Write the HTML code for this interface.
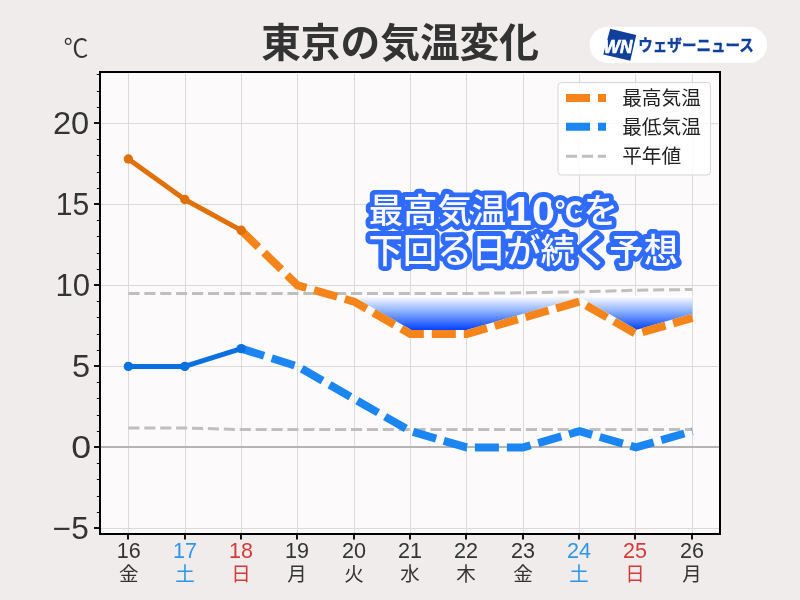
<!DOCTYPE html>
<html lang="ja">
<head>
<meta charset="utf-8">
<title>東京の気温変化</title>
<style>
html,body{margin:0;padding:0;}
body{width:800px;height:600px;overflow:hidden;background:#efeceb;font-family:"Liberation Sans", "Noto Sans CJK JP", sans-serif;}
svg{display:block;position:absolute;left:0;top:0;will-change:transform;}
text{font-family:"Liberation Sans", "Noto Sans CJK JP", sans-serif;}
.ja{font-family:"Liberation Sans","Noto Sans CJK JP",sans-serif;}
</style>
</head>
<body>
<svg width="800" height="600" viewBox="0 0 800 600">
<defs>
<linearGradient id="cold" gradientUnits="userSpaceOnUse" x1="0" y1="296" x2="0" y2="330.5">
<stop offset="0" stop-color="#ffffff"/>
<stop offset="0.5" stop-color="#7ca6ff"/>
<stop offset="1" stop-color="#003cff"/>
</linearGradient>
<mask id="cut" maskUnits="userSpaceOnUse" x="340" y="280" width="370" height="70">
<rect x="340" y="280" width="370" height="70" fill="#ffffff"/>
<polyline points="297.60,285.40 354.00,301.60 410.40,334.00 466.80,334.00 523.20,317.80 579.60,301.60 636.00,334.00 692.40,317.80" fill="none" stroke="#000000" stroke-width="8" stroke-linejoin="miter"/>
</mask>
</defs>
<rect x="0" y="0" width="800" height="600" fill="#efeceb"/>

<rect x="100.0" y="72.0" width="620.0" height="462.0" fill="#fcfafa"/>
<g stroke="#dbdada" stroke-width="1" fill="none"><line x1="128.5" y1="72.0" x2="128.5" y2="534.0"/><line x1="185.5" y1="72.0" x2="185.5" y2="534.0"/><line x1="241.5" y1="72.0" x2="241.5" y2="534.0"/><line x1="297.5" y1="72.0" x2="297.5" y2="534.0"/><line x1="354.5" y1="72.0" x2="354.5" y2="534.0"/><line x1="410.5" y1="72.0" x2="410.5" y2="534.0"/><line x1="466.5" y1="72.0" x2="466.5" y2="534.0"/><line x1="523.5" y1="72.0" x2="523.5" y2="534.0"/><line x1="579.5" y1="72.0" x2="579.5" y2="534.0"/><line x1="635.5" y1="72.0" x2="635.5" y2="534.0"/><line x1="692.5" y1="72.0" x2="692.5" y2="534.0"/><line x1="100.0" y1="528.5" x2="720.0" y2="528.5"/><line x1="100.0" y1="366.5" x2="720.0" y2="366.5"/><line x1="100.0" y1="285.5" x2="720.0" y2="285.5"/><line x1="100.0" y1="204.5" x2="720.0" y2="204.5"/><line x1="100.0" y1="123.5" x2="720.0" y2="123.5"/></g>
<line x1="100.0" y1="447.00" x2="720.0" y2="447.00" stroke="#b4b4b4" stroke-width="2"/>
<polyline points="128.40,293.50 184.80,293.50 241.20,293.50 297.60,293.50 354.00,293.50 410.40,293.50 466.80,293.50 523.20,292.69 579.60,291.88 636.00,290.26 692.40,289.45" fill="none" stroke="#c0bfbf" stroke-width="3" stroke-dasharray="11.1 4.8"/>
<polyline points="128.40,427.96 184.80,427.96 241.20,429.58 297.60,429.58 354.00,429.58 410.40,429.58 466.80,429.58 523.20,429.58 579.60,429.58 636.00,429.58 692.40,429.58" fill="none" stroke="#c0bfbf" stroke-width="3" stroke-dasharray="11.1 4.8"/>
<polygon points="354.00,295.60 354.00,301.60 410.40,334.00 466.80,334.00 523.20,317.80 579.60,301.60 636.00,334.00 692.40,317.80 692.40,295.60" fill="url(#cold)" mask="url(#cut)"/>
<polyline points="241.20,230.32 297.60,285.40 354.00,301.60 410.40,334.00 466.80,334.00 523.20,317.80 579.60,301.60 636.00,334.00 692.40,317.80" fill="none" stroke="#f5841a" stroke-width="8" stroke-dasharray="24 8" stroke-linejoin="miter"/>
<polyline points="241.20,348.58 297.60,366.40 354.00,398.80 410.40,431.20 466.80,447.40 523.20,447.40 579.60,431.20 636.00,447.40 692.40,431.20" fill="none" stroke="#1b85f2" stroke-width="8" stroke-dasharray="24 8" stroke-linejoin="miter"/>
<polyline points="128.40,159.04 184.80,199.54 241.20,230.32" fill="none" stroke="#e0700a" stroke-width="5" stroke-linejoin="round" stroke-linecap="round"/>
<circle cx="128.40" cy="159.04" r="4.7" fill="#e0700a"/>
<circle cx="184.80" cy="199.54" r="4.7" fill="#e0700a"/>
<circle cx="241.20" cy="230.32" r="4.7" fill="#e0700a"/>
<polyline points="128.40,366.40 184.80,366.40 241.20,348.58" fill="none" stroke="#0a6fe0" stroke-width="5" stroke-linejoin="round" stroke-linecap="round"/>
<circle cx="128.40" cy="366.40" r="4.7" fill="#0a6fe0"/>
<circle cx="184.80" cy="366.40" r="4.7" fill="#0a6fe0"/>
<circle cx="241.20" cy="348.58" r="4.7" fill="#0a6fe0"/>
<rect x="100.0" y="72.0" width="620.0" height="462.0" fill="none" stroke="#000" stroke-width="2"/>
<g stroke="#111" fill="none"><line x1="94.0" y1="528.0" x2="99.0" y2="528.0" stroke-width="2"/><line x1="96.8" y1="512.5" x2="99.0" y2="512.5" stroke-width="1"/><line x1="96.8" y1="496.5" x2="99.0" y2="496.5" stroke-width="1"/><line x1="96.8" y1="479.5" x2="99.0" y2="479.5" stroke-width="1"/><line x1="96.8" y1="463.5" x2="99.0" y2="463.5" stroke-width="1"/><line x1="94.0" y1="447.0" x2="99.0" y2="447.0" stroke-width="2"/><line x1="96.8" y1="431.5" x2="99.0" y2="431.5" stroke-width="1"/><line x1="96.8" y1="415.5" x2="99.0" y2="415.5" stroke-width="1"/><line x1="96.8" y1="398.5" x2="99.0" y2="398.5" stroke-width="1"/><line x1="96.8" y1="382.5" x2="99.0" y2="382.5" stroke-width="1"/><line x1="94.0" y1="366.0" x2="99.0" y2="366.0" stroke-width="2"/><line x1="96.8" y1="350.5" x2="99.0" y2="350.5" stroke-width="1"/><line x1="96.8" y1="334.5" x2="99.0" y2="334.5" stroke-width="1"/><line x1="96.8" y1="317.5" x2="99.0" y2="317.5" stroke-width="1"/><line x1="96.8" y1="301.5" x2="99.0" y2="301.5" stroke-width="1"/><line x1="94.0" y1="285.0" x2="99.0" y2="285.0" stroke-width="2"/><line x1="96.8" y1="269.5" x2="99.0" y2="269.5" stroke-width="1"/><line x1="96.8" y1="253.5" x2="99.0" y2="253.5" stroke-width="1"/><line x1="96.8" y1="236.5" x2="99.0" y2="236.5" stroke-width="1"/><line x1="96.8" y1="220.5" x2="99.0" y2="220.5" stroke-width="1"/><line x1="94.0" y1="204.0" x2="99.0" y2="204.0" stroke-width="2"/><line x1="96.8" y1="188.5" x2="99.0" y2="188.5" stroke-width="1"/><line x1="96.8" y1="172.5" x2="99.0" y2="172.5" stroke-width="1"/><line x1="96.8" y1="155.5" x2="99.0" y2="155.5" stroke-width="1"/><line x1="96.8" y1="139.5" x2="99.0" y2="139.5" stroke-width="1"/><line x1="94.0" y1="123.0" x2="99.0" y2="123.0" stroke-width="2"/><line x1="96.8" y1="107.5" x2="99.0" y2="107.5" stroke-width="1"/><line x1="96.8" y1="91.5" x2="99.0" y2="91.5" stroke-width="1"/><line x1="96.8" y1="74.5" x2="99.0" y2="74.5" stroke-width="1"/><line x1="128.0" y1="535.0" x2="128.0" y2="539.6" stroke-width="2"/><line x1="185.0" y1="535.0" x2="185.0" y2="539.6" stroke-width="2"/><line x1="241.0" y1="535.0" x2="241.0" y2="539.6" stroke-width="2"/><line x1="297.0" y1="535.0" x2="297.0" y2="539.6" stroke-width="2"/><line x1="354.0" y1="535.0" x2="354.0" y2="539.6" stroke-width="2"/><line x1="410.0" y1="535.0" x2="410.0" y2="539.6" stroke-width="2"/><line x1="466.0" y1="535.0" x2="466.0" y2="539.6" stroke-width="2"/><line x1="523.0" y1="535.0" x2="523.0" y2="539.6" stroke-width="2"/><line x1="579.0" y1="535.0" x2="579.0" y2="539.6" stroke-width="2"/><line x1="635.0" y1="535.0" x2="635.0" y2="539.6" stroke-width="2"/><line x1="692.0" y1="535.0" x2="692.0" y2="539.6" stroke-width="2"/></g>
<text x="89.2" y="134.1" font-size="30.5" fill="#333333" text-anchor="end" textLength="36.3" lengthAdjust="spacingAndGlyphs">20</text>
<text x="89.2" y="215.1" font-size="30.5" fill="#333333" text-anchor="end" textLength="33.5" lengthAdjust="spacingAndGlyphs">15</text>
<text x="90.2" y="296.1" font-size="30.5" fill="#333333" text-anchor="end" textLength="34.7" lengthAdjust="spacingAndGlyphs">10</text>
<text x="90.2" y="377.1" font-size="30.5" fill="#333333" text-anchor="end" textLength="18.1" lengthAdjust="spacingAndGlyphs">5</text>
<text x="91.2" y="458.1" font-size="30.5" fill="#333333" text-anchor="end" textLength="19.9" lengthAdjust="spacingAndGlyphs">0</text>
<text x="88.8" y="539.1" font-size="30.5" fill="#333333" text-anchor="end" textLength="36.0" lengthAdjust="spacingAndGlyphs">−5</text>
<text x="128.8" y="558.2" font-size="22" fill="#333333" text-anchor="middle" textLength="24" lengthAdjust="spacingAndGlyphs">16</text>
<text class="ja" x="128.8" y="581" font-size="19.5" fill="#333333" text-anchor="middle">金</text>
<text x="185.1" y="558.2" font-size="22" fill="#2e96e6" text-anchor="middle" textLength="24" lengthAdjust="spacingAndGlyphs">17</text>
<text class="ja" x="185.1" y="581" font-size="19.5" fill="#2e96e6" text-anchor="middle">土</text>
<text x="241.1" y="558.2" font-size="22" fill="#d63a3a" text-anchor="middle" textLength="24" lengthAdjust="spacingAndGlyphs">18</text>
<text class="ja" x="241.1" y="581" font-size="19.5" fill="#d63a3a" text-anchor="middle">日</text>
<text x="297.1" y="558.2" font-size="22" fill="#333333" text-anchor="middle" textLength="24" lengthAdjust="spacingAndGlyphs">19</text>
<text class="ja" x="297.1" y="581" font-size="19.5" fill="#333333" text-anchor="middle">月</text>
<text x="354.1" y="558.2" font-size="22" fill="#333333" text-anchor="middle" textLength="24" lengthAdjust="spacingAndGlyphs">20</text>
<text class="ja" x="354.1" y="581" font-size="19.5" fill="#333333" text-anchor="middle">火</text>
<text x="410.1" y="558.2" font-size="22" fill="#333333" text-anchor="middle" textLength="24" lengthAdjust="spacingAndGlyphs">21</text>
<text class="ja" x="410.1" y="581" font-size="19.5" fill="#333333" text-anchor="middle">水</text>
<text x="466.1" y="558.2" font-size="22" fill="#333333" text-anchor="middle" textLength="24" lengthAdjust="spacingAndGlyphs">22</text>
<text class="ja" x="466.1" y="581" font-size="19.5" fill="#333333" text-anchor="middle">木</text>
<text x="523.1" y="558.2" font-size="22" fill="#333333" text-anchor="middle" textLength="24" lengthAdjust="spacingAndGlyphs">23</text>
<text class="ja" x="523.1" y="581" font-size="19.5" fill="#333333" text-anchor="middle">金</text>
<text x="579.1" y="558.2" font-size="22" fill="#2e96e6" text-anchor="middle" textLength="24" lengthAdjust="spacingAndGlyphs">24</text>
<text class="ja" x="579.1" y="581" font-size="19.5" fill="#2e96e6" text-anchor="middle">土</text>
<text x="635.1" y="558.2" font-size="22" fill="#d63a3a" text-anchor="middle" textLength="24" lengthAdjust="spacingAndGlyphs">25</text>
<text class="ja" x="635.1" y="581" font-size="19.5" fill="#d63a3a" text-anchor="middle">日</text>
<text x="692.1" y="558.2" font-size="22" fill="#333333" text-anchor="middle" textLength="24" lengthAdjust="spacingAndGlyphs">26</text>
<text class="ja" x="692.1" y="581" font-size="19.5" fill="#333333" text-anchor="middle">月</text>
<text class="ja" x="63.4" y="57.2" font-size="25" font-weight="350" fill="#333333">℃</text>
<text class="ja" x="400.1" y="56.6" font-size="39.7" font-weight="700" fill="#333333" text-anchor="middle">東京の気温変化</text>
<rect x="589.5" y="26.8" width="177.6" height="36.3" rx="18.15" fill="#ffffff"/>
<polygon points="610.2,28.7 636.2,35 630.3,60.8 603.3,54.4" fill="#10409c"/>
<text x="603.7" y="52.6" font-size="18.2" font-weight="700" font-style="italic" fill="#ffffff" stroke="#ffffff" stroke-width="0.7" textLength="28.6" lengthAdjust="spacingAndGlyphs">WN</text>
<text class="ja" x="638.3" y="51.4" font-size="16.2" font-weight="700" fill="#10409c" stroke="#10409c" stroke-width="0.35" textLength="115.5" lengthAdjust="spacingAndGlyphs">ウェザーニュース</text>
<rect x="558" y="82.5" width="152.5" height="92.5" rx="3.5" fill="#ffffff" fill-opacity="0.85" stroke="#d8d6d6" stroke-width="1"/>
<line x1="566" y1="98" x2="606" y2="98" stroke="#f5841a" stroke-width="8" stroke-dasharray="24 8"/>
<line x1="566" y1="126.8" x2="606" y2="126.8" stroke="#1b85f2" stroke-width="8" stroke-dasharray="24 8"/>
<line x1="566" y1="156.2" x2="606" y2="156.2" stroke="#c0bfbf" stroke-width="3" stroke-dasharray="11.1 4.8"/>
<text class="ja" x="622.2" y="104.8" font-size="19.7" fill="#222">最高気温</text>
<text class="ja" x="622.2" y="133.6" font-size="19.7" fill="#222">最低気温</text>
<text class="ja" x="622.2" y="162.8" font-size="19.7" fill="#222">平年値</text>
<g font-weight="500" font-size="34.4" fill="#fdfbfd" stroke="#2f6bff" stroke-width="9.8" stroke-linejoin="round" paint-order="stroke fill">
<text class="ja" x="368.7" y="222.5">最高気温<tspan x="508.8" y="224.6" font-size="41.5" font-weight="700">10</tspan><tspan x="554.9" y="221.8" font-size="27.6" font-weight="700">℃</tspan><tspan x="583.6" y="222.5">を</tspan></text>
<text class="ja" x="368.6" y="263.4">下回る日が続く予想</text>
</g>
</svg>
</body>
</html>
